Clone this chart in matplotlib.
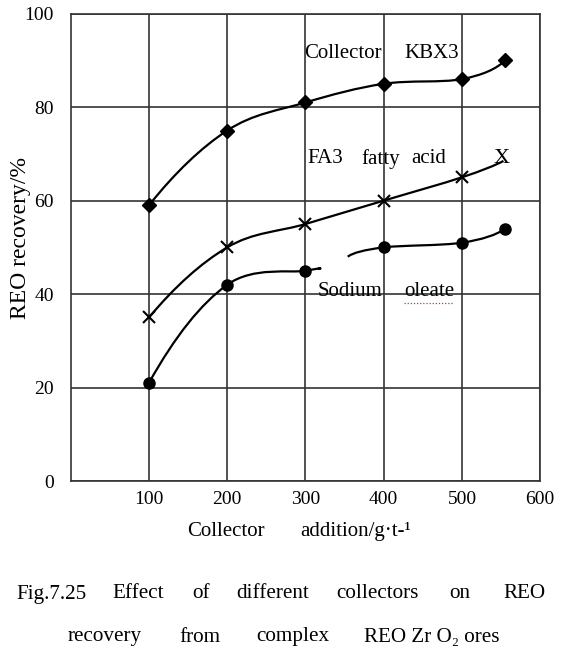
import matplotlib
matplotlib.use("Agg")
import matplotlib.pyplot as plt
from matplotlib.path import Path
from matplotlib.patches import PathPatch

plt.rcParams["font.family"] = ["Liberation Serif", "DejaVu Serif"]

# data
kbx3_x = [100, 200, 300, 400, 500, 555]
kbx3_y = [59, 75, 81, 85, 86, 90]

fa3_x = [100, 200, 300, 400, 500]
fa3_y = [35, 50, 55, 60, 65]
fa3_end = (553, 68.5)

oleate_x = [100, 200, 300, 400, 500, 555]
oleate_y = [21, 42, 45, 50, 51, 54]
oleate_gap = [(316, 45.4), (354, 48.0)]

x_ticks = [100, 200, 300, 400, 500, 600]
y_ticks = [0, 20, 40, 60, 80, 100]


def smooth_path(xs, ys):
    # Catmull-Rom through the points as cubic beziers,
    # end tangents taken from a parabola through the end segment
    pts = list(zip(xs, ys))
    n = len(pts)
    tang = []
    for i in range(n):
        if 0 < i < n - 1:
            tang.append(((pts[i + 1][0] - pts[i - 1][0]) / 2,
                         (pts[i + 1][1] - pts[i - 1][1]) / 2))
        else:
            tang.append(None)
    if n > 2:
        tang[0] = (2 * (pts[1][0] - pts[0][0]) - tang[1][0],
                   2 * (pts[1][1] - pts[0][1]) - tang[1][1])
        tang[-1] = (2 * (pts[-1][0] - pts[-2][0]) - tang[-2][0],
                    2 * (pts[-1][1] - pts[-2][1]) - tang[-2][1])
    else:
        d = (pts[1][0] - pts[0][0], pts[1][1] - pts[0][1])
        tang = [d, d]
    verts = [pts[0]]
    codes = [Path.MOVETO]
    for i in range(n - 1):
        p1, p2 = pts[i], pts[i + 1]
        c1 = (p1[0] + tang[i][0] / 3, p1[1] + tang[i][1] / 3)
        c2 = (p2[0] - tang[i + 1][0] / 3, p2[1] - tang[i + 1][1] / 3)
        verts += [c1, c2, p2]
        codes += [Path.CURVE4] * 3
    return Path(verts, codes)


def draw_curve(ax, xs, ys):
    ax.add_patch(PathPatch(smooth_path(xs, ys), fill=False,
                           edgecolor="black", lw=1.6, zorder=3))


fig = plt.figure(figsize=(5.61, 6.51), dpi=100)
ax = fig.add_axes([0.126, 0.261, 0.837, 0.718])
ax.set_xlim(0, 600)
ax.set_ylim(0, 100)

ax.set_xticks(x_ticks)
ax.set_yticks(y_ticks)
ax.tick_params(length=0, labelsize=14, pad=7)
ax.tick_params(axis="y", pad=12)
ax.grid(True, color="#333333", lw=1.2)
for s in ax.spines.values():
    s.set_color("#333333")
    s.set_linewidth(1.2)

# curves
draw_curve(ax, kbx3_x, kbx3_y)
draw_curve(ax, fa3_x + [fa3_end[0]], fa3_y + [fa3_end[1]])
draw_curve(ax, oleate_x[:3] + [oleate_gap[0][0]], oleate_y[:3] + [oleate_gap[0][1]])
draw_curve(ax, [oleate_gap[1][0]] + oleate_x[3:], [oleate_gap[1][1]] + oleate_y[3:])

# markers
ax.plot(kbx3_x, kbx3_y, ls="none", marker="D", ms=7.5, color="black", zorder=4)
ax.plot(fa3_x, fa3_y, ls="none", marker="x", ms=8, mew=1.5, color="black", zorder=4)
ax.plot(oleate_x, oleate_y, ls="none", marker="o", ms=8, color="black", zorder=4)

# in-plot labels
fs = 15
ax.text(298, 91.5, "Collector", fontsize=fs, va="center")
ax.text(426, 91.5, "KBX3", fontsize=fs, va="center")
ax.text(303, 69, "FA3", fontsize=fs, va="center")
ax.text(371, 69, "fatty", fontsize=fs, va="center")
ax.text(435, 69, "acid", fontsize=fs, va="center")
ax.text(540, 69, "X", fontsize=16, va="center")
ax.text(315, 40.5, "Sodium", fontsize=fs, va="center")
ax.text(426, 40.5, "oleate", fontsize=fs, va="center")
ax.plot([426, 489], [38.0, 38.0], color="#d03030", lw=0.9, ls=(0, (1, 1.5)), zorder=5)

ax.set_ylabel("REO recovery/%", fontsize=17)
ax.yaxis.set_label_coords(-0.085, 0.52)
fig.text(0.333, 0.183, "Collector", fontsize=fs, ha="left", va="center")
fig.text(0.535, 0.183, "addition/g\u00b7t-\u00b9", fontsize=fs, ha="left", va="center")

# caption
line1 = [("Fig.7.25", 16), ("Effect", 112), ("of", 192), ("different", 236),
         ("collectors", 336), ("on", 449), ("REO", 503)]
line2 = [("recovery", 68), ("from", 179), ("complex", 256),
         ("REO Zr O\u2082 ores", 364)]
for word, px in line1:
    fig.text(px / 561, 1 - 594 / 651, word, fontsize=15.2, va="center")
for word, px in line2:
    fig.text(px / 561, 1 - 637 / 651, word, fontsize=15.2, va="center")

fig.savefig("out.png", dpi=100)
